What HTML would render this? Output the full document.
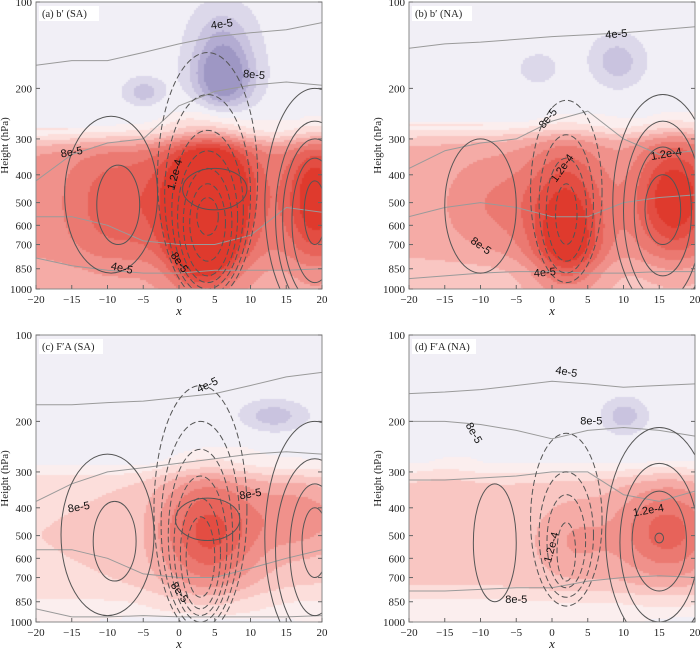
<!DOCTYPE html>
<html><head><meta charset="utf-8">
<style>
body{margin:0;background:#fff;width:700px;height:648px;overflow:hidden;position:relative;font-family:"Liberation Serif",serif;}
canvas{position:absolute;}
svg{position:absolute;left:0;top:0;}
</style></head>
<body>
<canvas id="ca" width="286" height="287" style="left:36px;top:2px"></canvas>
<canvas id="cb" width="286" height="287" style="left:409px;top:2px"></canvas>
<canvas id="cc" width="286" height="287" style="left:36px;top:335px"></canvas>
<canvas id="cd" width="286" height="287" style="left:409px;top:335px"></canvas>
<svg id="s" width="700" height="648"></svg>
<script>
// ---- data ----
const xTicks = [-20,-15,-10,-5,0,5,10,15,20];
const pTicks = [100,200,300,400,500,600,700,850,1000];
const panelTitles = ["(a) b\u2032 (SA)","(b) b\u2032 (NA)","(c) F\u2032A (SA)","(d) F\u2032A (NA)"];
// background: [lowerValue, transitionPressure, surfaceFade]
const bgA=[0.25,300,0.2], bgB=[0.2,285,0.3], bgC=[0.12,300,0.7], bgD=[0.14,300,0.8];
// blobs: [x, p, amplitude, sigmaX, sigmaLogP]
const blobsA=[[4,470,0.5,4.5,0.16],[3,730,0.28,3,0.09],[19,480,0.3,3,0.15],[-9,500,0.15,5,0.15],[6,185,-0.32,3,0.08],[-5,205,-0.13,2,0.035],[6,130,-0.12,3,0.08]];
const blobsB=[[2,550,0.3,4,0.18],[2,720,0.12,3,0.08],[17,480,0.35,4,0.15],[-8,500,0.1,5,0.12],[9,160,-0.13,2.5,0.06],[-2,170,-0.07,2,0.04]];
const blobsC=[[4,480,0.32,5,0.15],[17,430,0.15,5,0.1],[13,190,-0.13,3,0.035],[0,1000,-0.08,10,0.02]];
const blobsD=[[16,480,0.25,5,0.12],[3,520,0.1,4,0.1],[10,190,-0.13,2,0.04],[-15,250,0.04,3,0.1],[17,1000,-0.06,4,0.02]];
// contour ellipses: [cx, pTop, pBottom, halfWidth, dashed]
const ellA=[[-9.5,250,880,6.5,0],[-8.5,370,700,3,0],[4,150,1100,7,1],[4,210,1050,6,1],[4,280,1000,5,1],[4,330,950,4.2,1],[4,380,900,3.4,1],[4,430,800,2.5,1],[4,480,650,1.5,1],[5,380,530,4.5,0],[19,200,1300,7,0],[19,260,1200,5.5,0],[19,300,1100,4.5,0],[19,350,950,3.2,0],[19,420,700,1.5,0]];
const ellB=[[-10,300,880,5,0],[2,220,950,5,1],[2,290,880,3.8,1],[2,350,800,2.8,1],[2,430,700,1.5,1],[15.5,210,1200,7,0],[15.5,260,1100,5.5,0],[15.5,320,900,4,0],[15.5,400,700,2.5,0]];
const ellC=[[-10,260,950,6.5,0],[-9,380,720,3,0],[3,150,1100,6.5,1],[3,200,1050,5.5,1],[3,250,1000,4.5,1],[3,310,950,3.7,1],[3,370,900,2.8,1],[3,430,820,2,1],[4,370,520,4.5,0],[19,200,1300,7,0],[19,270,1150,5.5,0],[19,330,950,3.5,0],[19,400,700,1.8,0]];
const ellD=[[-8,330,850,3,0],[2,220,880,5,1],[2,300,820,3.8,1],[2,360,760,2.7,1],[2,450,720,1.3,1],[15,210,1200,7.5,0],[15,280,1000,5.5,0],[15,350,780,3.8,0],[15,490,530,0.6,0]];
// gray contour lines: pressures at xTicks
const grayA=[[166,160,160,150,140,132,128,125,118],[420,340,310,300,230,205,195,190,195],[560,560,600,680,700,700,650,520,540],[780,830,860,880,880,860,860,860,850]];
const grayB=[[145,140,138,135,132,130,128,125,122],[380,330,310,300,260,240,300,340,330],[560,520,500,520,560,560,500,480,470],[920,900,880,870,870,880,880,870,870]];
const grayC=[[175,175,172,170,165,160,150,140,135],[380,330,300,290,280,270,260,255,260],[560,560,600,680,700,700,650,600,560],[900,960,960,950,960,960,960,960,950]];
const grayD=[[160,158,155,150,145,148,152,150,148],[200,200,205,215,230,215,210,215,225],[320,320,315,310,300,300,360,380,350],[780,780,770,760,760,720,700,690,700]];
// contour labels: [x, p, text, rotation]
const labA=[[6,120,"4e-5",-8],[10.5,180,"8e-5",5],[-15,335,"8e-5",-10],[-8,850,"4e-5",12],[-0.5,400,"1.2e-4",-75],[0,810,"8e-5",55]];
const labB=[[9,130,"4e-5",-5],[-0.5,255,"8e-5",-50],[1.5,380,"1.2e-4",-55],[16,340,"1.2e-4",-10],[-10,710,"8e-5",35],[-1,880,"4e-5",-5]];
const labC=[[4,150,"4e-5",-25],[-14,400,"8e-5",-10],[10,360,"8e-5",-10],[0,790,"8e-5",55]];
const labD=[[2,135,"4e-5",10],[-11,220,"8e-5",60],[5.5,200,"8e-5",0],[0,550,"1.2e-4",-75],[13.5,410,"1.2e-4",-10],[-5,840,"8e-5",0]];

const panels=[
 {id:"a",L:36,T:2,bg:bgA,bl:blobsA,el:ellA,gr:grayA,lb:labA},
 {id:"b",L:409,T:2,bg:bgB,bl:blobsB,el:ellB,gr:grayB,lb:labB},
 {id:"c",L:36,T:335,bg:bgC,bl:blobsC,el:ellC,gr:grayC,lb:labC},
 {id:"d",L:409,T:335,bg:bgD,bl:blobsD,el:ellD,gr:grayD,lb:labD}];
const W=286,H=287;
const posCols=["#fbeeee","#fcdedb","#f9c6c2","#f5aba6","#f0918b","#eb7971","#e7635a","#e34d42","#df3a2d"];
const negCols=["#f1eff6","#dcd8ea","#c9c3df","#b3acd2","#9e97c4"];
const NS="http://www.w3.org/2000/svg";
const svg=document.getElementById("s");
function xs(x){return (x+20)/40*W;}
function tp(p){return Math.log10(p/100);}
function ys(p){return tp(p)*H;}
function field(P,x,t){
  let v=P.bg[0]/(1+Math.exp(-(t-tp(P.bg[1]))/0.02));
  v*=1-P.bg[2]/(1+Math.exp(-(t-0.9)/0.02));
  v-=0.03/(1+Math.exp((t-tp(P.bg[1]))/0.02));
  for(const b of P.bl){const dx=(x-b[0])/b[3],dt=(t-tp(b[1]))/b[4];v+=b[2]*Math.exp(-0.5*(dx*dx+dt*dt));}
  return v;
}
function mk(tag,attrs,parent){const e=document.createElementNS(NS,tag);for(const k in attrs)e.setAttribute(k,attrs[k]);(parent||svg).appendChild(e);return e;}
panels.forEach((P,pi)=>{
  const ctx=document.getElementById("c"+P.id).getContext("2d");
  for(let py=0;py<H;py+=2)for(let px=0;px<W;px+=2){
    const x=-20+px/W*40,t=py/H;const v=field(P,x,t);
    let c;
    if(v>=0.02){c=posCols[Math.min(8,Math.floor(v/0.06))];}
    else{c=negCols[Math.min(4,Math.floor(-v/0.06))];}
    ctx.fillStyle=c;ctx.fillRect(px,py,2,2);
  }
  const g=mk("g",{transform:`translate(${P.L},${P.T})`});
  
  
  const cp=mk("clipPath",{id:"clip"+P.id},g);mk("rect",{x:0,y:0,width:W,height:H},cp);
  const cg=mk("g",{"clip-path":`url(#clip${P.id})`},g);
  P.gr.forEach(arr=>{
    let d="";arr.forEach((p,i)=>{const X=xs(xTicks[i]),Y=ys(p);d+=(i?" L":"M")+X.toFixed(1)+" "+Y.toFixed(1);});
    const e=mk("path",{d:d,fill:"none",stroke:"#9a9a9a","stroke-width":1,"stroke-linejoin":"round"},cg);
    
    
  });
  P.el.forEach(q=>{
    const t1=tp(q[1]),t2=tp(q[2]);
    const e=mk("ellipse",{cx:xs(q[0]),cy:(t1+t2)/2*H,rx:q[3]/40*W,ry:(t2-t1)/2*H,fill:"none",stroke:"#555","stroke-width":1,"stroke-dasharray":q[4]?"6,3":"none"},cg);
    
    
  });
  P.lb.forEach(l=>{
    const X=xs(l[0]),Y=ys(l[1]);
    const e=mk("text",{x:X,y:Y,"font-family":"Liberation Sans, sans-serif","font-size":11,"text-anchor":"middle","dominant-baseline":"middle",transform:`rotate(${l[3]} ${X} ${Y})`,fill:"#111"},cg);
    e.textContent=l[2];
    
    
  });
  const fr=mk("rect",{x:0,y:0,width:W,height:H,fill:"none",stroke:"#888","stroke-width":1},g);
  
  
  const tb=mk("rect",{x:3,y:4,width:pi<2?60:64,height:15,fill:"#fff"},g);
  
  
  const tt=mk("text",{x:6,y:15,"font-size":10.5,fill:"#222"},g);
  tt.textContent=panelTitles[pi];
  
  
  pTicks.forEach(p=>{
    const Y=ys(p);
    mk("line",{x1:0,x2:4,y1:Y,y2:Y,stroke:"#666"},g);
    mk("line",{x1:W-4,x2:W,y1:Y,y2:Y,stroke:"#666"},g);
    const e=mk("text",{x:-4,y:Y+4,"font-size":11,"text-anchor":"end",fill:"#222"},g);
    e.textContent=p;
    
    
  });
  xTicks.forEach(x=>{
    const X=xs(x);
    mk("line",{x1:X,x2:X,y1:H,y2:H-4,stroke:"#666"},g);
    const e=mk("text",{x:X,y:H+14,"font-size":11,"text-anchor":"middle",fill:"#222"},g);
    e.textContent=(x<0?"\u2212"+(-x):x);
    
    
  });
  const xl=mk("text",{x:W/2,y:H+26,"font-size":13,"font-style":"italic","text-anchor":"middle",fill:"#222"},g);
  xl.textContent="x";
  
  
  const yl=mk("text",{x:0,y:0,"font-size":11,"text-anchor":"middle",fill:"#222",transform:`translate(-28,${H/2}) rotate(-90)`},g);
  yl.textContent="Height (hPa)";
  
  
});
</script>
</body></html>
